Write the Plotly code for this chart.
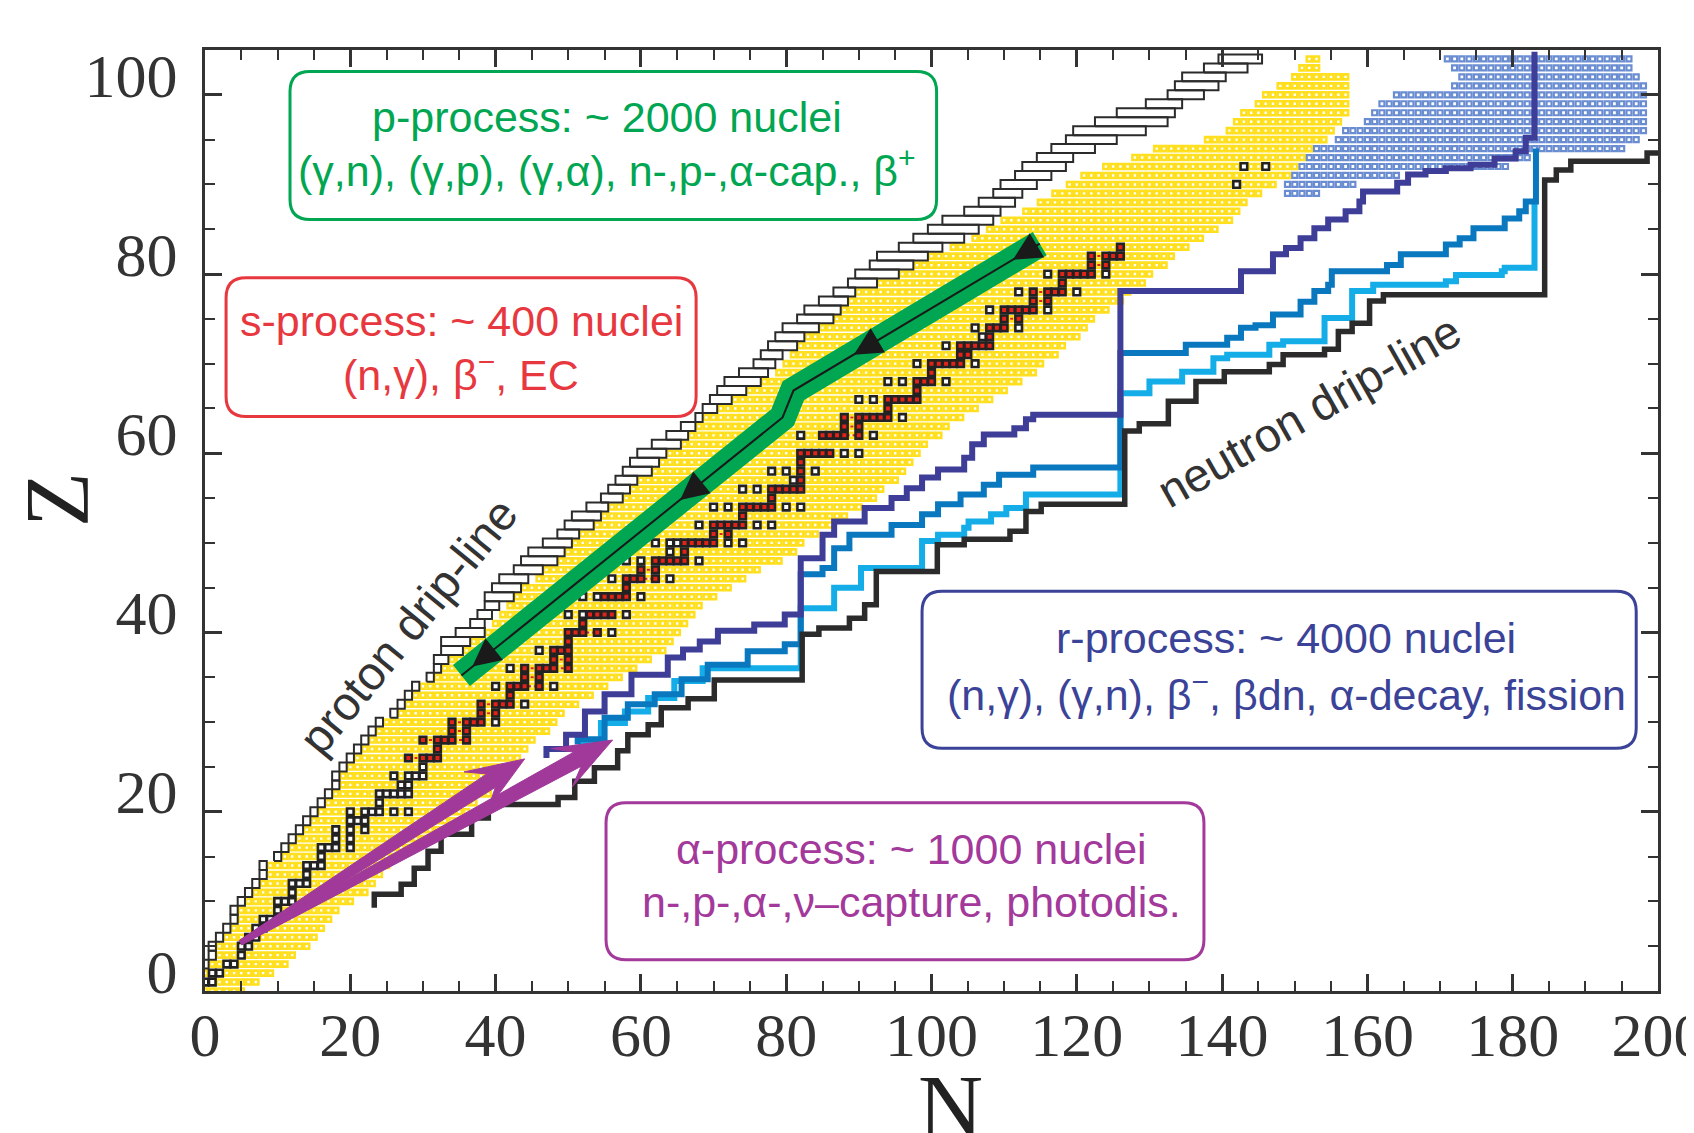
import math
import plotly.graph_objects as go

# ---------------- values ----------------
X_TICKS = [0, 20, 40, 60, 80, 100, 120, 140, 160, 180, 200]
Y_TICKS = [0, 20, 40, 60, 80, 100]

# measured (known) nuclei region: first / last N for every Z
YELLOW_Z = list(range(0, 105))
YELLOW_NMIN = [0, 0, 0, 1, 2, 2, 3, 4, 5, 5,
               6, 7, 8, 9, 9, 11, 12, 13, 14, 15,
               16, 17, 18, 19, 19, 20, 21, 22, 23, 24,
               25, 27, 28, 29, 30, 32, 33, 34, 36, 37,
               39, 40, 41, 42, 43, 44, 46, 47, 49, 50,
               51, 52, 54, 55, 56, 58, 59, 60, 62, 63,
               64, 66, 67, 68, 69, 71, 73, 75, 77, 79,
               80, 81, 82, 83, 85, 87, 88, 89, 90, 93,
               96, 98, 100, 103, 106, 108, 110, 113, 115, 117,
               119, 121, 124, 128, 131, 138, 141, 142, 143, 145,
               146, 148, 150, 151, 152]
YELLOW_NMAX = [5, 7, 9, 11, 12, 14, 15, 16, 17, 18,
               20, 22, 23, 24, 25, 26, 28, 31, 33, 35,
               36, 37, 39, 40, 41, 42, 43, 44, 45, 47,
               48, 49, 51, 53, 55, 57, 59, 61, 63, 64,
               65, 66, 67, 68, 70, 72, 74, 76, 79, 81,
               82, 84, 86, 88, 90, 92, 93, 95, 96, 97,
               98, 99, 101, 102, 104, 106, 108, 110, 112, 114,
               115, 117, 118, 120, 121, 122, 124, 126, 127, 129,
               130, 132, 133, 135, 137, 139, 141, 142, 143, 145,
               147, 149, 150, 151, 152, 154, 155, 156, 157, 157,
               157, 157, 157, 153, 153]

# proton drip-line: first bound N for each Z
PDRIP_Z = list(range(3, 105))
PDRIP_N = [0, 1, 1, 2, 3, 4, 4, 5, 6, 7, 8, 8,
           10, 11, 12, 13, 14, 15, 16, 17, 18, 18, 19, 20, 21, 22, 23, 24,
           26, 27, 28, 29, 31, 32, 32, 33, 33, 35, 37, 38, 39, 39, 40, 41,
           43, 44, 45, 47, 49, 50, 51, 53, 55, 56, 57, 58, 59, 60, 62, 64,
           66, 68, 69, 70, 71, 72, 74, 76, 77, 78, 79, 80, 82, 83, 85, 87,
           89, 90, 92, 93, 96, 98, 100, 102, 105, 107, 109, 110, 112, 113,
           115, 117, 119, 120, 123, 126, 130, 133, 134, 135, 138, 140]

# neutron drip-line staircase corners
ND_N = [23.3, 27.0, 28.8, 30.7, 32.5, 36.7, 39.0, 48.6, 50.9, 53.6, 56.8, 58.2,
        61.0, 62.8, 66.5, 70.1, 82.2, 84.5, 88.7, 90.8, 92.4, 100.8, 104.5, 110.8,
        113.0, 115.1, 126.6, 128.6, 132.6, 136.4, 140.3, 146.5, 148.4, 154.1, 156.0,
        157.9, 160.3, 162.2, 184.4, 186.0, 188.0, 198.5, 201.0]
ND_Z = [9.3, 10.8, 11.9, 13.7, 15.6, 17.5, 19.3, 20.8, 21.6, 23.4, 24.9, 26.8,
        28.6, 29.7, 31.6, 32.6, 34.7, 39.8, 40.5, 41.6, 43.1, 46.8, 49.8, 50.4,
        51.3, 53.5, 54.3, 62.5, 63.3, 65.8, 68.0, 69.1, 69.9, 71.0, 71.6,
        73.6, 74.5, 77.0, 77.7, 90.5, 91.6, 92.6, 93.5]

# r-process paths (three conditions)
DB_N = [47.0, 49.7, 52.3, 55.0, 58.7, 63.7, 65.8, 68.1, 70.6, 75.6, 79.8, 82.0, 85.0,
        86.6, 90.8, 94.5, 96.6, 98.7, 100.9, 104.5, 105.6, 107.2, 111.4, 113.0, 114.0,
        126.0, 142.6, 147.0, 148.8, 150.8, 152.7, 154.6, 157.0, 158.9, 159.4, 164.1,
        165.6, 168.0, 170.8, 174.2, 177.5, 180.4, 181.8, 183.0, 183.0]
DB_Z = [26.0, 27.0, 28.6, 31.2, 33.1, 35.3, 37.2, 38.1, 39.0, 40.2, 40.9, 42.0, 48.3,
        50.9, 52.4, 53.9, 55.0, 56.1, 57.3, 58.2, 59.5, 61.0, 62.1, 62.8, 63.8,
        64.3, 78.1, 80.3, 82.2, 82.9, 84.0, 85.1, 86.1, 87.0, 88.1, 89.2,
        90.2, 91.1, 91.5, 91.8, 92.2, 92.9, 93.7, 95.2, 104.8]
MB_N = [51.3, 55.0, 58.2, 61.9, 65.6, 69.2, 74.7, 79.8, 82.0, 85.0, 86.6, 88.7, 94.5,
        98.7, 100.9, 104.0, 107.2, 109.3, 114.0, 126.0, 135.0, 140.7, 142.6, 144.6,
        147.0, 150.8, 152.7, 154.6, 155.1, 162.7, 164.6, 170.8, 172.7, 174.6, 178.9,
        180.9, 181.8, 183.2, 183.2]
MB_Z = [27.5, 28.1, 30.5, 32.0, 33.1, 34.8, 36.4, 37.9, 38.7, 46.5, 47.2, 49.4, 50.9,
        52.0, 53.2, 54.3, 55.4, 56.5, 57.6, 58.4, 71.2, 72.1, 72.9, 74.0,
        74.3, 75.5, 76.9, 78.1, 78.8, 80.3, 81.0, 82.2, 83.3, 84.0, 85.1,
        86.2, 87.0, 88.1, 94.0]
LB_N = [52.0, 54.5, 57.8, 61.0, 64.6, 68.5, 82.0, 86.6, 90.3, 98.7, 100.9, 104.5,
        105.1, 108.2, 110.3, 113.0, 126.0, 130.0, 134.5, 138.8, 140.7, 146.5, 148.4,
        154.1, 157.9, 160.8, 170.8, 172.2, 178.5, 178.9, 183.0, 183.0]
LB_Z = [27.0, 27.9, 29.9, 31.2, 32.7, 34.6, 36.0, 42.7, 45.0, 47.2, 50.2, 50.9,
        51.7, 52.4, 53.2, 53.9, 55.4, 66.7, 68.0, 69.1, 70.6, 71.0, 72.1,
        72.5, 75.1, 78.1, 78.8, 79.2, 79.9, 80.3, 80.7, 88.1]

# fission region nuclei
FISSION_Z = list(range(89, 105))
FISSION_NMIN = [149, 149, 150, 151, 152, 153, 156, 157, 160, 161, 162, 164, 172, 173, 172, 171]
FISSION_NMAX = [153, 158, 164, 179, 182, 195, 197, 198, 198, 198, 198, 198, 198, 197, 196, 196]

# stable (and very long lived) nuclei
STABLE_Z = [1, 2, 3, 4, 5, 6, 7, 8, 9, 10, 11, 12, 13, 14, 15, 16, 17, 18, 19, 20,
            21, 22, 23, 24, 25, 26, 27, 28, 29, 30, 31, 32, 33, 34, 35, 36, 37, 38,
            39, 40, 41, 42, 44, 45, 46, 47, 48, 49, 50, 51, 52, 53, 54, 55, 56, 57,
            58, 59, 60, 62, 63, 64, 65, 66, 67, 68, 69, 70, 71, 72, 73, 74, 75, 76,
            77, 78, 79, 80, 81, 82, 83, 90, 92]
STABLE_N = [[0, 1], [1, 2], [3, 4], [5], [5, 6], [6, 7], [7, 8], [8, 9, 10], [10],
            [10, 11, 12], [12], [12, 13, 14], [14], [14, 15, 16], [16], [16, 17, 18, 20],
            [18, 20], [18, 20, 22], [20, 21, 22], [20, 22, 23, 24, 26, 28], [24],
            [24, 25, 26, 27, 28], [27, 28], [26, 28, 29, 30], [30], [28, 30, 31, 32],
            [32], [30, 32, 33, 34, 36], [34, 36], [34, 36, 37, 38, 40], [38, 40],
            [38, 40, 41, 42, 44], [42], [40, 42, 43, 44, 46, 48], [44, 46],
            [42, 44, 46, 47, 48, 50], [48, 50], [46, 48, 49, 50], [50],
            [50, 51, 52, 54, 56], [52], [50, 52, 53, 54, 55, 56, 58],
            [52, 54, 55, 56, 57, 58, 60], [58], [56, 58, 59, 60, 62, 64], [60, 62],
            [58, 60, 62, 63, 64, 65, 66, 68], [64, 66],
            [62, 64, 65, 66, 67, 68, 69, 70, 72, 74], [70, 72],
            [68, 70, 71, 72, 73, 74, 76, 78], [74], [70, 72, 74, 75, 76, 77, 78, 80, 82],
            [78], [74, 76, 78, 79, 80, 81, 82], [81, 82], [78, 80, 82, 84], [82],
            [82, 83, 84, 85, 86, 88, 90], [82, 85, 86, 87, 88, 90, 92], [88, 90],
            [88, 90, 91, 92, 93, 94, 96], [94], [90, 92, 94, 95, 96, 97, 98], [98],
            [94, 96, 98, 99, 100, 102], [100], [98, 100, 101, 102, 103, 104, 106],
            [104, 105], [102, 104, 105, 106, 107, 108], [107, 108],
            [106, 108, 109, 110, 112], [110, 112], [108, 110, 111, 112, 113, 114, 116],
            [114, 116], [112, 114, 116, 117, 118, 120], [118],
            [116, 118, 119, 120, 121, 122, 124], [122, 124], [122, 124, 125, 126],
            [126], [142], [143, 146]]
# stable nuclei not on the s-process path (p-only and r-only)
NON_S_Z = [34, 36, 38, 42, 42, 44, 44, 46, 48, 48, 49, 50, 50, 50, 52, 54, 54, 56, 56,
           57, 58, 58, 62, 66, 66, 68, 68, 70, 72, 73, 74, 76, 78, 80,
           30, 32, 34, 40, 42, 44, 46, 48, 50, 50, 52, 52, 54, 54, 58, 60, 60, 62,
           64, 68, 70, 74, 76, 78, 80]
NON_S_N = [40, 42, 46, 50, 52, 52, 54, 56, 58, 60, 64, 62, 64, 65, 68, 70, 72, 74, 76,
           81, 78, 80, 82, 90, 92, 94, 96, 98, 102, 107, 106, 108, 112, 116,
           40, 44, 48, 56, 58, 60, 64, 68, 72, 74, 76, 78, 80, 82, 84, 88, 90, 92,
           96, 102, 106, 112, 116, 120, 124]
S_START_Z = 26
S_END_Z = 83

# p-process band and its flow arrows
GREEN_N = [114.9, 81.0, 79.5, 35.3]
GREEN_Z = [83.4, 67.0, 64.0, 35.2]
P_ARROW_N = [111.2, 89.3, 65.4, 36.8]
P_ARROW_Z = [81.6, 71.0, 54.8, 36.2]

# alpha-process arrows
ALPHA_TAIL_N = [4.9, 4.9]
ALPHA_TAIL_Z = [5.4, 5.4]
ALPHA_TIP_N = [44.0, 56.1]
ALPHA_TIP_Z = [25.9, 28.0]

# labelled boxes
BOX_N0 = [11.7, 2.9, 98.7, 55.2]
BOX_N1 = [100.7, 67.6, 197.0, 137.5]
BOX_Z0 = [86.1, 64.1, 27.1, 3.5]
BOX_Z1 = [102.6, 79.6, 44.6, 21.0]
BOX_COLORS = ["#00A651", "#E8383F", "#3B4398", "#A3399B"]
BOX_TEXT_N = [55.3, 35.3, 148.8, 97.3]
BOX_LINE1 = ["p-process: ~ 2000 nuclei", "s-process: ~ 400 nuclei",
             "r-process: ~ 4000 nuclei", "α-process: ~ 1000 nuclei"]
BOX_LINE1_Z = [97.5, 74.8, 39.4, 15.8]
BOX_LINE2 = ["(γ,n), (γ,p), (γ,α), n-,p-,α-cap., β<sup>+</sup>",
             "(n,γ), β<sup>−</sup>, EC",
             "(n,γ), (γ,n), β<sup>−</sup>, βdn, α-decay, fission",
             "n-,p-,α-,ν–capture, photodis."]
BOX_LINE2_Z = [91.8, 69.1, 33.4, 9.9]

DRIP_LABELS = ["proton drip-line", "neutron drip-line"]
DRIP_LABEL_N = [28.0, 152.0]
DRIP_LABEL_Z = [40.8, 64.8]
DRIP_LABEL_ANGLE = [-50.7, -29.6]

# ---------------- layout constants ----------------
W, H = 1694, 1133
ML, MR, MT, MB = 197, 44, 42, 150
X_RANGE = [0, 200]
Y_RANGE = [0, 105]
PXX = (W - ML - MR) / (X_RANGE[1] - X_RANGE[0])
PXY = (H - MT - MB) / (Y_RANGE[1] - Y_RANGE[0])

SERIF = "Liberation Serif, Times New Roman, serif"
SANS = "Liberation Sans, Arial, sans-serif"

fig = go.Figure()

# yellow measured nuclei
yx, yy = [], []
for i, z in enumerate(YELLOW_Z):
    for n in range(YELLOW_NMIN[i], YELLOW_NMAX[i] + 1):
        yx.append(n)
        yy.append(z)
fig.add_trace(go.Scatter(x=yx, y=yy, mode="markers", hoverinfo="skip",
                         marker=dict(symbol="square-open", size=5.0, color="#FFDF1E",
                                     line=dict(width=2.6))))

# fission region nuclei
fx, fy = [], []
for i, z in enumerate(FISSION_Z):
    for n in range(FISSION_NMIN[i], FISSION_NMAX[i] + 1):
        fx.append(n)
        fy.append(z)
fig.add_trace(go.Scatter(x=fx, y=fy, mode="markers", hoverinfo="skip",
                         marker=dict(symbol="square-open", size=5.0, color="#6A8DD2",
                                     line=dict(width=2.2))))

# stable nuclei and s-process path
non_s = set(zip(NON_S_Z, NON_S_N))
sx, sy, sc = [], [], []
rpx, rpy = [], []
for z, ns in zip(STABLE_Z, STABLE_N):
    s_ns = []
    for n in ns:
        sx.append(n)
        sy.append(z)
        on_s = S_START_Z <= z <= S_END_Z and (z, n) not in non_s
        sc.append("#E2231A" if on_s else "white")
        if on_s:
            s_ns.append(n)
    if len(s_ns) > 1:
        rpx += [min(s_ns), max(s_ns), None]
        rpy += [z, z, None]
fig.add_trace(go.Scatter(x=rpx, y=rpy, mode="lines", hoverinfo="skip",
                         line=dict(color="#E2231A", width=2, dash="dot")))
fig.add_trace(go.Scatter(x=sx, y=sy, mode="markers", hoverinfo="skip",
                         marker=dict(symbol="square", size=6.6, color=sc,
                                     line=dict(width=2.6, color="#222222"))))

# proton drip-line (row outlines)
pdx, pdy = [], []
for i, z in enumerate(PDRIP_Z):
    n0 = PDRIP_N[i]
    nxt = PDRIP_N[i + 3] if i + 3 < len(PDRIP_N) else n0 + 6
    n1 = max(n0 + 1, min(nxt, YELLOW_NMIN[z]))
    x0, x1 = n0 - 0.5, n1 - 0.5
    pdx += [x0, x1, x1, x0, x0, None]
    pdy += [z - 0.5, z - 0.5, z + 0.5, z + 0.5, z - 0.5, None]
fig.add_trace(go.Scatter(x=pdx, y=pdy, mode="lines", hoverinfo="skip",
                         line=dict(color="#2b2b2b", width=2)))

# r-process paths and neutron drip-line
for xs, ys, col, wd in [(LB_N, LB_Z, "#14ADE8", 6),
                        (MB_N, MB_Z, "#0A78BE", 6),
                        (DB_N, DB_Z, "#3E3D98", 6),
                        (ND_N, ND_Z, "#2b2b2b", 5.5)]:
    fig.add_trace(go.Scatter(x=xs, y=ys, mode="lines", hoverinfo="skip",
                             line=dict(color=col, width=wd, shape="vh")))

# p-process band
fig.add_trace(go.Scatter(x=GREEN_N, y=GREEN_Z, mode="lines", hoverinfo="skip",
                         line=dict(color="#00A651", width=27)))
fig.add_trace(go.Scatter(x=GREEN_N, y=GREEN_Z, mode="lines", hoverinfo="skip",
                         line=dict(color="#1a1a1a", width=2)))


def to_px(n, z):
    return n * PXX, z * PXY


def to_data(px, py):
    return px / PXX, py / PXY


annotations = []
# flow arrows inside the green band
for an, az in zip(P_ARROW_N, P_ARROW_Z):
    best = None
    for k in range(len(GREEN_N) - 1):
        a = to_px(GREEN_N[k], GREEN_Z[k])
        b = to_px(GREEN_N[k + 1], GREEN_Z[k + 1])
        p = to_px(an, az)
        vx, vy = b[0] - a[0], b[1] - a[1]
        t = max(0, min(1, ((p[0] - a[0]) * vx + (p[1] - a[1]) * vy) / (vx * vx + vy * vy)))
        d = math.hypot(a[0] + t * vx - p[0], a[1] + t * vy - p[1])
        if best is None or d < best[0]:
            L = math.hypot(vx, vy)
            best = (d, vx / L, vy / L)
    ux, uy = best[1], best[2]
    annotations.append(dict(x=an, y=az, xref="x", yref="y", text="", showarrow=True,
                            ax=-ux * 30, ay=uy * 30, axref="pixel", ayref="pixel",
                            arrowhead=2, arrowsize=2.8, arrowwidth=2, arrowcolor="#1a1a1a"))

# alpha-process arrows as filled shapes
for tn, tz, hn, hz in zip(ALPHA_TAIL_N, ALPHA_TAIL_Z, ALPHA_TIP_N, ALPHA_TIP_Z):
    X0, Y0 = to_px(tn, tz)
    X1, Y1 = to_px(hn, hz)
    L = math.hypot(X1 - X0, Y1 - Y0)
    ux, uy = (X1 - X0) / L, (Y1 - Y0) / L
    qx, qy = -uy, ux
    head_len, head_w, notch, w0, w1 = 58, 22, 18, 2.5, 8.0
    bx, by = X1 - ux * head_len, Y1 - uy * head_len
    sx_, sy_ = bx + ux * notch, by + uy * notch
    pts = [(X0 + qx * w0, Y0 + qy * w0), (sx_ + qx * w1, sy_ + qy * w1),
           (bx + qx * head_w, by + qy * head_w), (X1, Y1),
           (bx - qx * head_w, by - qy * head_w), (sx_ - qx * w1, sy_ - qy * w1),
           (X0 - qx * w0, Y0 - qy * w0), (X0 + qx * w0, Y0 + qy * w0)]
    dx = [to_data(*p)[0] for p in pts]
    dy = [to_data(*p)[1] for p in pts]
    fig.add_trace(go.Scatter(x=dx, y=dy, mode="lines", fill="toself", hoverinfo="skip",
                             fillcolor="#A0399A", line=dict(color="#A0399A", width=1)))

# rounded boxes
rx, ry = 20 / PXX, 20 / PXY
shapes = []
for x0, x1, y0, y1, col in zip(BOX_N0, BOX_N1, BOX_Z0, BOX_Z1, BOX_COLORS):
    path = (f"M {x0 + rx},{y0} L {x1 - rx},{y0} Q {x1},{y0} {x1},{y0 + ry} "
            f"L {x1},{y1 - ry} Q {x1},{y1} {x1 - rx},{y1} L {x0 + rx},{y1} "
            f"Q {x0},{y1} {x0},{y1 - ry} L {x0},{y0 + ry} Q {x0},{y0} {x0 + rx},{y0} Z")
    shapes.append(dict(type="path", path=path, xref="x", yref="y", layer="above",
                       line=dict(color=col, width=3), fillcolor="white"))

for t1, z1, t2, z2, tn, col in zip(BOX_LINE1, BOX_LINE1_Z, BOX_LINE2, BOX_LINE2_Z,
                                   BOX_TEXT_N, BOX_COLORS):
    for txt, tz in ((t1, z1), (t2, z2)):
        annotations.append(dict(x=tn, y=tz, xref="x", yref="y", text=txt, showarrow=False,
                                xanchor="center", yanchor="middle",
                                font=dict(family=SANS, size=43, color=col)))

for txt, tn, tz, ang in zip(DRIP_LABELS, DRIP_LABEL_N, DRIP_LABEL_Z, DRIP_LABEL_ANGLE):
    annotations.append(dict(x=tn, y=tz, xref="x", yref="y", text=txt, showarrow=False,
                            textangle=ang, xanchor="center", yanchor="middle",
                            font=dict(family=SANS, size=47, color="#333333")))

# axis titles
annotations.append(dict(x=102.6, y=-0.124, xref="x", yref="paper", text="N", showarrow=False,
                        xanchor="center", yanchor="middle",
                        font=dict(family=SERIF, size=90, color="#222222")))
annotations.append(dict(x=-0.101, y=0.522, xref="paper", yref="paper", text="Z",
                        showarrow=False, textangle=-90, xanchor="center", yanchor="middle",
                        font=dict(family=SERIF, size=90, color="#222222")))

axis_common = dict(showgrid=False, zeroline=False, showline=True, linecolor="#333333",
                   linewidth=3, mirror="ticks", ticks="inside", ticklen=17, tickwidth=2.5,
                   tickcolor="#333333", ticklabeloverflow="allow",
                   minor=dict(ticks="inside", ticklen=10, tickwidth=2, dtick=5,
                              tickcolor="#333333"),
                   tickfont=dict(family=SERIF, size=62, color="#333333"))

fig.update_layout(
    width=W, height=H,
    margin=dict(l=ML, r=MR, t=MT, b=MB, autoexpand=False),
    paper_bgcolor="white", plot_bgcolor="white",
    showlegend=False,
    shapes=shapes,
    annotations=annotations,
    xaxis=dict(range=X_RANGE, tickvals=X_TICKS, ticktext=[str(v) for v in X_TICKS],
               ticklabelstandoff=-12, **axis_common),
    yaxis=dict(range=Y_RANGE, tickvals=Y_TICKS, ticktext=[str(v) for v in Y_TICKS],
               ticklabelshift=-20, ticklabelstandoff=12, **axis_common),
)

fig.write_html("out.html")
